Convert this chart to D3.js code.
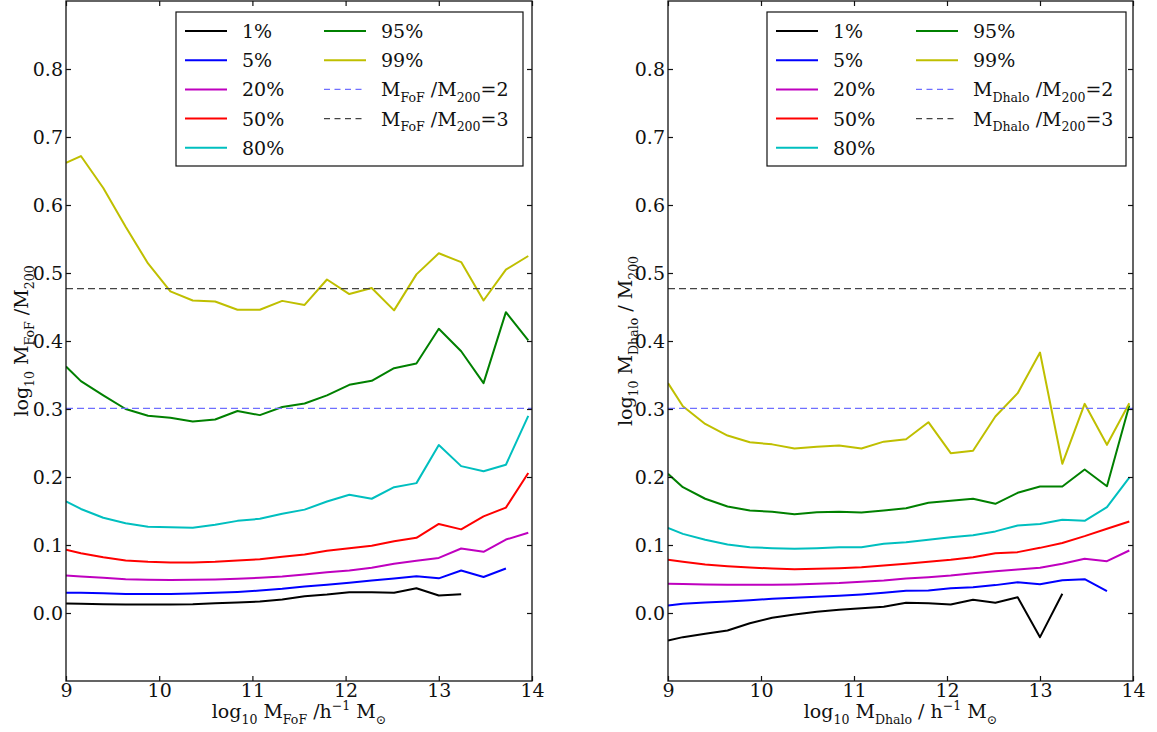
<!DOCTYPE html>
<html><head><meta charset="utf-8">
<script src="https://cdn.jsdelivr.net/npm/d3@7"></script>
<style>
html,body{margin:0;padding:0;background:#fff;}
text{font-family:"DejaVu Serif",serif;fill:#111;}
</style></head>
<body><svg id="chart" width="1157" height="732"></svg>
<script>
// ---- data ----
const massBins = [9.0, 9.16, 9.40, 9.64, 9.88, 10.12, 10.36, 10.60, 10.84, 11.08, 11.32, 11.56, 11.80, 12.04, 12.28, 12.52, 12.76, 13.00, 13.24, 13.48, 13.72, 13.96];
const percentiles = ["1%", "5%", "20%", "50%", "80%", "95%", "99%"];
const xTicks = [9, 10, 11, 12, 13, 14];
const yTicks = [0.0, 0.1, 0.2, 0.3, 0.4, 0.5, 0.6, 0.7, 0.8];
const ratioLines = [2, 3];

// left panel: M_FoF / M_200
const fof_p1  = [0.014,0.0135,0.013,0.0125,0.0125,0.0125,0.013,0.0145,0.0154,0.017,0.020,0.0247,0.0272,0.0306,0.0306,0.0297,0.0365,0.0257,0.0277];
const fof_p5  = [0.0297,0.0297,0.029,0.028,0.028,0.028,0.0287,0.0297,0.031,0.033,0.0356,0.039,0.0415,0.0444,0.0478,0.0507,0.054,0.051,0.0625,0.053,0.0654];
const fof_p20 = [0.055,0.0537,0.0518,0.0497,0.0488,0.0485,0.0488,0.0493,0.0502,0.0517,0.0537,0.0566,0.060,0.0625,0.0664,0.0723,0.0767,0.081,0.0948,0.090,0.108,0.118];
const fof_p50 = [0.093,0.088,0.082,0.0772,0.0753,0.0743,0.0743,0.0753,0.0772,0.079,0.0826,0.086,0.0914,0.0953,0.0988,0.1056,0.1106,0.131,0.123,0.142,0.155,0.206];
const fof_p80 = [0.164,0.153,0.140,0.132,0.127,0.126,0.1253,0.1297,0.1355,0.1385,0.146,0.152,0.164,0.174,0.168,0.185,0.191,0.247,0.216,0.2085,0.218,0.29];
const fof_p95 = [0.3625,0.341,0.320,0.300,0.290,0.287,0.2816,0.2846,0.297,0.291,0.303,0.308,0.320,0.3356,0.3415,0.360,0.367,0.418,0.385,0.338,0.4424,0.401];
const fof_p99 = [0.662,0.672,0.625,0.568,0.514,0.473,0.4596,0.458,0.446,0.446,0.459,0.453,0.4904,0.469,0.478,0.445,0.498,0.529,0.516,0.4596,0.505,0.525];

// right panel: M_Dhalo / M_200
const dh_p1  = [-0.0404,-0.0355,-0.0306,-0.0257,-0.015,-0.0071,-0.0022,0.0017,0.0047,0.0071,0.0091,0.015,0.0144,0.0125,0.0194,0.015,0.0233,-0.0355,0.0282];
const dh_p5  = [0.011,0.0135,0.0154,0.0169,0.0188,0.0208,0.0223,0.0238,0.0252,0.0272,0.0297,0.0326,0.033,0.0365,0.038,0.041,0.0453,0.0424,0.0483,0.0498,0.032];
const dh_p20 = [0.043,0.0425,0.042,0.0415,0.0415,0.0415,0.042,0.043,0.044,0.0459,0.0478,0.0507,0.0527,0.0551,0.0586,0.0615,0.064,0.0664,0.0723,0.0797,0.0762,0.0919];
const dh_p50 = [0.0782,0.0753,0.0713,0.0689,0.0669,0.0654,0.0644,0.0649,0.0659,0.0674,0.0698,0.0723,0.0753,0.0782,0.082,0.088,0.0895,0.0958,0.103,0.113,0.1238,0.1346];
const dh_p80 = [0.125,0.1164,0.1076,0.1007,0.0968,0.0953,0.0944,0.0953,0.0968,0.0968,0.1017,0.104,0.1076,0.1115,0.1144,0.120,0.1287,0.131,0.137,0.1356,0.1556,0.199];
const dh_p95 = [0.2047,0.185,0.168,0.1566,0.1507,0.1488,0.1453,0.148,0.1488,0.1478,0.1507,0.154,0.162,0.165,0.168,0.1606,0.1768,0.186,0.186,0.211,0.1865,0.305];
const dh_p99 = [0.338,0.304,0.278,0.261,0.251,0.248,0.242,0.2444,0.2463,0.242,0.252,0.2556,0.2806,0.235,0.2385,0.289,0.3233,0.383,0.2194,0.3076,0.2473,0.3085];

const seriesColors = ["#000000", "#0000ff", "#bf00bf", "#ff0000", "#00bfbf", "#008000", "#bfbf00"];
const ratioColors = ["#6f6fff", "#444444"];

// ---- drawing ----
const svg = d3.select("#chart");
const FS = 19;

function richText(sel, parts, size) {
  // parts: [text, mode] mode: 0 normal, 1 sub, 2 sup
  let cur = 0;
  parts.forEach(([t, m]) => {
    const target = m === 1 ? size * 0.3 : m === 2 ? -size * 0.4 : 0;
    sel.append("tspan").attr("dy", target - cur)
      .style("font-size", (m ? size * 0.66 : size) + "px").text(t);
    cur = target;
  });
}

function drawPanel(opt) {
  const x = d3.scaleLinear().domain([9, 14]).range([opt.x0, opt.x1]);
  const y = d3.scaleLinear().domain([-0.1, 0.9]).range([681, 1]);
  const g = svg.append("g");
  const clipId = "clip" + opt.id;
  svg.append("clipPath").attr("id", clipId).append("rect")
    .attr("x", opt.x0).attr("y", 1).attr("width", opt.x1 - opt.x0).attr("height", 680);

  const line = d3.line().x((d, i) => x(massBins[i])).y(d => y(d));
  const plot = g.append("g").attr("clip-path", `url(#${clipId})`);
  opt.series.forEach((s, k) => {
    plot.append("path").datum(s).attr("d", line).attr("fill", "none")
      .attr("stroke", seriesColors[k]).attr("stroke-width", 2).attr("stroke-linejoin", "round");
  });
  ratioLines.forEach((r, k) => {
    plot.append("line").attr("x1", opt.x0).attr("x2", opt.x1)
      .attr("y1", y(Math.log10(r))).attr("y2", y(Math.log10(r)))
      .attr("stroke", ratioColors[k]).attr("stroke-width", 1.3).attr("stroke-dasharray", "7,4");
  });

  // axes (ticks inside)
  const axB = d3.axisBottom(x).tickValues(xTicks).tickSize(-5).tickPadding(2).tickFormat(d3.format("d"));
  const axT = d3.axisTop(x).tickValues(xTicks).tickSize(-5).tickFormat("");
  const axL = d3.axisLeft(y).tickValues(yTicks).tickSize(-5).tickPadding(3).tickFormat(d3.format(".1f"));
  const axR = d3.axisRight(y).tickValues(yTicks).tickSize(-5).tickFormat("");
  [[axB, `translate(0,681)`], [axT, `translate(0,1)`], [axL, `translate(${opt.x0},0)`], [axR, `translate(${opt.x1},0)`]]
    .forEach(([ax, tr]) => {
      const a = g.append("g").attr("transform", tr).call(ax);
      a.select(".domain").remove();
      a.selectAll("line").attr("stroke", "#111").attr("stroke-width", 1.2);
      a.selectAll("text").style("font-size", FS + "px").style("font-family", "DejaVu Serif").attr("fill", "#111");
    });
  g.append("rect").attr("x", opt.x0).attr("y", 1).attr("width", opt.x1 - opt.x0).attr("height", 680)
    .attr("fill", "none").attr("stroke", "#111").attr("stroke-width", 1.3);

  // axis labels
  const xl = g.append("text").attr("x", (opt.x0 + opt.x1) / 2).attr("y", 718).attr("text-anchor", "middle").style("font-size", FS + "px");
  richText(xl, opt.xlabel, FS);
  const yl = g.append("text").attr("transform", `translate(${opt.ylx},341) rotate(-90)`).attr("text-anchor", "middle").style("font-size", FS + "px");
  richText(yl, opt.ylabel, FS);

  // legend
  const L = opt.legend;
  g.append("rect").attr("x", L.x).attr("y", 12).attr("width", L.w).attr("height", 154)
    .attr("fill", "#fff").attr("stroke", "#111").attr("stroke-width", 1.2);
  const rowY = i => 31 + i * 29.2;
  percentiles.forEach((p, k) => {
    const col = k < 5 ? 0 : 1, row = k < 5 ? k : k - 5;
    const lx = L.x + (col ? L.c2 : 9);
    g.append("line").attr("x1", lx).attr("x2", lx + 42).attr("y1", rowY(row)).attr("y2", rowY(row))
      .attr("stroke", seriesColors[k]).attr("stroke-width", 2);
    g.append("text").attr("x", lx + 57).attr("y", rowY(row) + 7).style("font-size", FS + "px").text(p);
  });
  ratioLines.forEach((r, k) => {
    const lx = L.x + L.c2, yy = rowY(2 + k);
    g.append("line").attr("x1", lx).attr("x2", lx + 42).attr("y1", yy).attr("y2", yy)
      .attr("stroke", ratioColors[k]).attr("stroke-width", 1.2).attr("stroke-dasharray", "6,4.5");
    const t = g.append("text").attr("x", lx + 57).attr("y", yy + 7).style("font-size", FS + "px");
    richText(t, [["M", 0], [opt.name, 1], [" /M", 0], ["200", 1], ["=" + r, 0]], FS);
  });
}

drawPanel({
  id: "L", x0: 66, x1: 532, ylx: 28,
  series: [fof_p1, fof_p5, fof_p20, fof_p50, fof_p80, fof_p95, fof_p99],
  name: "FoF",
  xlabel: [["log", 0], ["10", 1], [" M", 0], ["FoF", 1], [" /h", 0], ["\u22121", 2], ["  M", 0], ["\u2299", 1]],
  ylabel: [["log", 0], ["10", 1], ["  M", 0], ["FoF", 1], [" /M", 0], ["200", 1]],
  legend: { x: 176, w: 347, c2: 148 }
});
drawPanel({
  id: "R", x0: 668, x1: 1133, ylx: 632,
  series: [dh_p1, dh_p5, dh_p20, dh_p50, dh_p80, dh_p95, dh_p99],
  name: "Dhalo",
  xlabel: [["log", 0], ["10", 1], [" M", 0], ["Dhalo", 1], [" / h", 0], ["\u22121", 2], ["  M", 0], ["\u2299", 1]],
  ylabel: [["log", 0], ["10", 1], [" M", 0], ["Dhalo", 1], [" / M", 0], ["200", 1]],
  legend: { x: 767, w: 359, c2: 149 }
});
</script></body></html>
